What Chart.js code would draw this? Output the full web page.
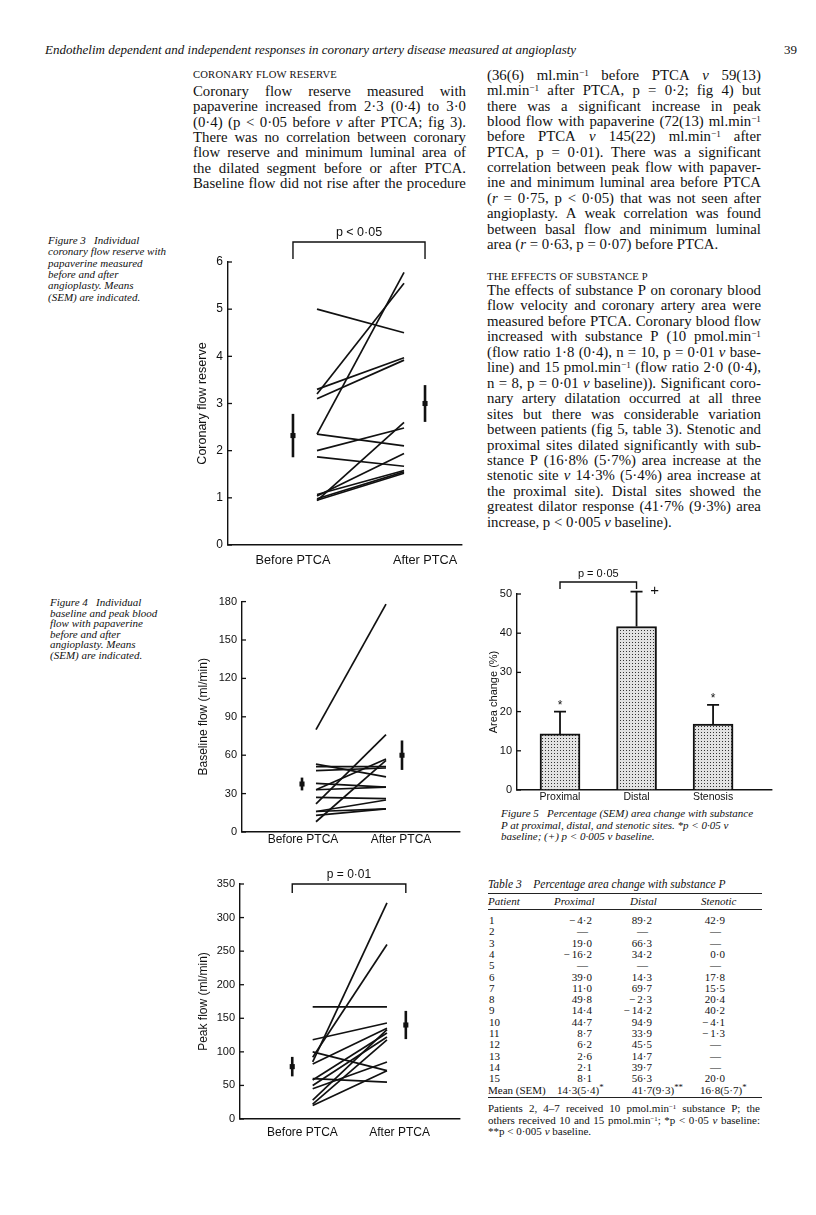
<!DOCTYPE html>
<html>
<head>
<meta charset="utf-8">
<script src="https://cdn.jsdelivr.net/npm/chart.js@4.4.0/dist/chart.umd.min.js"></script>
<style>
body{margin:0;background:#fff;width:816px;height:1215px;position:relative;overflow:hidden;font-family:"Liberation Serif","Times New Roman",serif;color:#111;}
.ln{position:absolute;white-space:nowrap;}
.body{font-size:14.8px;line-height:16px;}
.sc{font-size:10.6px;line-height:16px;letter-spacing:0.2px;}
.cap{font-size:11px;line-height:12px;font-style:italic;}
.tb{font-size:11px;line-height:12px;}
.hd{font-size:13px;line-height:16px;}
sup{font-size:0.62em;line-height:0;vertical-align:0.45em;}
canvas{position:absolute;}
.rule{position:absolute;border-top:1px solid #222;}
</style>
</head>
<body>
<canvas id="cfr" width="275" height="350" style="left:195px;top:220px"></canvas>
<canvas id="baseline" width="272" height="260" style="left:196px;top:590px"></canvas>
<canvas id="peak" width="272" height="279" style="left:196px;top:862px"></canvas>
<canvas id="area" width="290" height="240" style="left:487px;top:566px"></canvas>
<script>
// fig 3: coronary flow reserve, one pair per patient
const cfrBefore = [5.0, 2.35, 3.2, 3.3, 3.1, 2.35, 2.0, 1.87, 0.94, 1.04, 0.98, 1.07, 0.95];
const cfrAfter  = [4.5, 5.78, 5.55, 3.97, 3.92, 2.1, 2.48, 1.67, 2.6, 1.94, 1.55, 1.58, 1.52];
const cfrMean = [2.32, 3.0];
const cfrSem = [0.46, 0.39];

// fig 4: baseline flow (ml/min)
const baseBefore = [80, 22, 8, 33, 53, 51, 48, 38, 33, 27, 16, 16, 13];
const baseAfter  = [178, 76, 56, 57, 43, 51, 50, 35, 35, 26, 25, 18, 18];
const baseMean = [37.5, 60];
const baseSem = [5, 11.5];

// fig 4: peak flow (ml/min)
const peakBefore = [167, 85, 92, 118, 100, 82, 58, 50, 28, 22, 45, 20, 60];
const peakAfter  = [167, 322, 260, 143, 72, 135, 128, 122, 133, 118, 85, 72, 55];
const peakMean = [78, 140];
const peakSem = [14.5, 21];

const periods = ['Before PTCA', 'After PTCA'];

// fig 5: area change with substance P
const sites = ['Proximal', 'Distal', 'Stenosis'];
const areaMean = [14.3, 41.7, 16.8];
const areaSem = [5.7, 8.9, 4.9];
const areaMarks = ['*', '+', '*'];

// table 3
const patients = ['1','2','3','4','5','6','7','8','9','10','11','12','13','14','15'];
const tblProximal = [-4.2, null, 19.0, -16.2, null, 39.0, 11.0, 49.8, 14.4, 44.7, 8.7, 6.2, 2.6, 2.1, 8.1];
const tblDistal   = [89.2, null, 66.3, 34.2, null, 14.3, 69.7, -2.3, -14.2, 94.9, 33.9, 45.5, 14.7, 39.7, 56.3];
const tblStenotic = [42.9, null, null, 0.0, null, 17.8, 15.5, 20.4, 40.2, -4.1, -1.3, null, null, null, 20.0];
const tblMean = ['14·3(5·4)*', '41·7(9·3)**', '16·8(5·7)*'];

const INK = '#111';
const SANS = '"Liberation Sans", Arial, Helvetica, sans-serif';
Chart.defaults.font.family = SANS;
Chart.defaults.color = INK;

// ---------- text ----------
function addLine(html, x, y, w, cls, lh, just) {
  const d = document.createElement('div');
  d.className = 'ln ' + cls;
  d.style.left = x + 'px';
  d.style.top = (y - lh / 2) + 'px';
  if (just) {
    d.style.width = w + 'px';
    d.style.display = 'flex';
    d.style.justifyContent = 'space-between';
    d.innerHTML = html.split(' ').map(s => '<span>' + s + '</span>').join('');
  } else {
    d.innerHTML = html;
  }
  document.body.appendChild(d);
}
function para(lines, x, y0, step, w, cls, lh, lastJust) {
  lines.forEach((t, i) => addLine(t, x, y0 + i * step, w, cls, lh, i < lines.length - 1 || lastJust));
}
function plain(lines, x, y0, step, cls) {
  lines.forEach((t, i) => addLine(t, x, y0 + i * step, 0, cls, 12, false));
}

addLine('<i>Endothelim dependent and independent responses in coronary artery disease measured at angioplasty</i>', 45, 50, 0, 'hd', 16, false);
addLine('39', 784, 50, 0, 'hd', 16, false);

addLine('CORONARY FLOW RESERVE', 193, 75, 0, 'sc', 16, false);
para([
  'Coronary flow reserve measured with',
  'papaverine increased from 2·3 (0·4) to 3·0',
  '(0·4) (p &lt; 0·05 before <i>v</i> after PTCA; fig 3).',
  'There was no correlation between coronary',
  'flow reserve and minimum luminal area of',
  'the dilated segment before or after PTCA.',
  'Baseline flow did not rise after the procedure'
], 193, 91, 15.3, 273, 'body', 16, true);

para([
  '(36(6) ml.min<sup>−1</sup> before PTCA <i>v</i> 59(13)',
  'ml.min<sup>−1</sup> after PTCA, p = 0·2; fig 4) but',
  'there was a significant increase in peak',
  'blood flow with papaverine (72(13) ml.min<sup>−1</sup>',
  'before PTCA <i>v</i> 145(22) ml.min<sup>−1</sup> after',
  'PTCA, p = 0·01). There was a significant',
  'correlation between peak flow with papaver-',
  'ine and minimum luminal area before PTCA',
  '(<i>r</i> = 0·75, p &lt; 0·05) that was not seen after',
  'angioplasty. A weak correlation was found',
  'between basal flow and minimum luminal',
  'area (<i>r</i> = 0·63, p = 0·07) before PTCA.'
], 487, 75, 15.35, 274, 'body', 16, false);

addLine('THE EFFECTS OF SUBSTANCE P', 487, 277, 0, 'sc', 16, false);
para([
  'The effects of substance P on coronary blood',
  'flow velocity and coronary artery area were',
  'measured before PTCA. Coronary blood flow',
  'increased with substance P (10 pmol.min<sup>−1</sup>',
  '(flow ratio 1·8 (0·4), n = 10, p = 0·01 <i>v</i> base-',
  'line) and 15 pmol.min<sup>−1</sup> (flow ratio 2·0 (0·4),',
  'n = 8, p = 0·01 <i>v</i> baseline)). Significant coro-',
  'nary artery dilatation occurred at all three',
  'sites but there was considerable variation',
  'between patients (fig 5, table 3). Stenotic and',
  'proximal sites dilated significantly with sub-',
  'stance P (16·8% (5·7%) area increase at the',
  'stenotic site <i>v</i> 14·3% (5·4%) area increase at',
  'the proximal site). Distal sites showed the',
  'greatest dilator response (41·7% (9·3%) area',
  'increase, p &lt; 0·005 <i>v</i> baseline).'
], 487, 290, 15.45, 274, 'body', 16, false);

plain([
  'Figure 3&nbsp;&nbsp;&nbsp;Individual',
  'coronary flow reserve with',
  'papaverine measured',
  'before and after',
  'angioplasty. Means',
  '(SEM) are indicated.'
], 48, 240, 11.3, 'cap');
plain([
  'Figure 4&nbsp;&nbsp;&nbsp;Individual',
  'baseline and peak blood',
  'flow with papaverine',
  'before and after',
  'angioplasty. Means',
  '(SEM) are indicated.'
], 50, 602, 10.6, 'cap');
plain([
  'Figure 5&nbsp;&nbsp;&nbsp;Percentage (SEM) area change with substance',
  'P at proximal, distal, and stenotic sites. *p &lt; 0·05 v',
  'baseline; (+) p &lt; 0·005 v baseline.'
], 501, 813, 11.5, 'cap');

// ---------- table 3 ----------
function cell(html, x, y, align, extra) {
  const d = document.createElement('div');
  d.className = 'ln tb';
  d.style.top = (y - 6) + 'px';
  if (align === 'right') d.style.right = (816 - x) + 'px'; else d.style.left = x + 'px';
  if (extra) d.style.cssText += extra;
  d.innerHTML = html;
  document.body.appendChild(d);
}
function rule(x, y, w, t) {
  const d = document.createElement('div');
  d.className = 'rule';
  d.style.left = x + 'px'; d.style.top = y + 'px'; d.style.width = w + 'px';
  d.style.borderTopWidth = t + 'px';
  document.body.appendChild(d);
}
const fmt = v => v === null ? '—' : ((v < 0 ? '−\u2009' : '') + Math.abs(v).toFixed(1)).replace('.', '·');
cell('Table 3&nbsp;&nbsp;&nbsp;&nbsp;Percentage area change with substance P', 488, 884, 'left', 'font-style:italic;font-size:11.5px');
rule(488, 893, 274, 1.2);
cell('Patient', 488, 901, 'left', 'font-style:italic');
cell('Proximal', 554, 901, 'left', 'font-style:italic');
cell('Distal', 630, 901, 'left', 'font-style:italic');
cell('Stenotic', 701, 901, 'left', 'font-style:italic');
rule(488, 909, 274, 0.8);
const tblCols = [
  {vals: tblProximal, right: 592, meanLeft: 557},
  {vals: tblDistal, right: 652, meanLeft: 632},
  {vals: tblStenotic, right: 725, meanLeft: 700}
];
patients.forEach((p, i) => {
  const y = 920 + i * 11.3;
  cell(p, 489, y, 'left');
  tblCols.forEach(c => {
    const v = c.vals[i];
    cell(fmt(v), v === null ? c.right - 4 : c.right, y, 'right');
  });
});
const meanY = 920 + patients.length * 11.3;
cell('Mean (SEM)', 488, meanY, 'left');
tblCols.forEach((c, j) => cell(tblMean[j].replace(/\*+/, m => '<sup style="font-size:0.8em">' + m + '</sup>'), c.meanLeft, meanY, 'left'));
rule(488, 1097, 274, 1.4);
addLine('Patients 2, 4–7 received 10 pmol.min<sup>−1</sup> substance P; the', 488, 1108, 272, 'tb', 12, true);
addLine('others received 10 and 15 pmol.min<sup>−1</sup>; *p &lt; 0·05 <i>v</i> baseline:', 488, 1119.5, 272, 'tb', 12, true);
addLine('**p &lt; 0·005 <i>v</i> baseline.', 488, 1131, 0, 'tb', 12, false);

// ---------- chart helpers ----------
const paperMarks = {
  id: 'paperMarks',
  afterDatasetsDraw(chart, args, o) {
    const ctx = chart.ctx, xs = chart.scales.x, ys = chart.scales.y, area = chart.chartArea;
    ctx.save();
    ctx.strokeStyle = INK; ctx.fillStyle = INK;
    // short inward ticks on the y axis
    ctx.lineWidth = 1.3;
    ys.ticks.forEach(t => {
      const y = ys.getPixelForValue(t.value);
      ctx.beginPath(); ctx.moveTo(area.left, y); ctx.lineTo(area.left + 4, y); ctx.stroke();
    });
    // error bars
    if (o.sem) {
      const last = chart.data.datasets.length - 1;
      const meta = chart.getDatasetMeta(last);
      const vals = chart.data.datasets[last].data;
      meta.data.forEach((el, i) => {
        const m = vals[i].y, s = o.sem[i];
        const top = ys.getPixelForValue(m + s);
        ctx.lineWidth = o.errWidth;
        ctx.beginPath();
        if (o.upOnly) {
          ctx.moveTo(el.x, el.y); ctx.lineTo(el.x, top);
          ctx.moveTo(el.x - o.cap, top); ctx.lineTo(el.x + o.cap, top);
        } else {
          ctx.moveTo(el.x, ys.getPixelForValue(m - s)); ctx.lineTo(el.x, top);
        }
        ctx.stroke();
        if (o.marks && o.marks[i]) {
          ctx.textAlign = 'center'; ctx.textBaseline = 'middle';
          if (o.marks[i] === '+') {
            ctx.font = '15px ' + SANS;
            ctx.fillText('+', el.x + 18, top - 1);
          } else {
            ctx.font = '12px ' + SANS;
            ctx.fillText(o.marks[i], el.x, top - 6);
          }
        }
      });
    }
    // significance bracket
    if (o.bracket) {
      const b = o.bracket;
      const x1 = xs.getPixelForValue(b.from), x2 = xs.getPixelForValue(b.to), y0 = area.top - b.above;
      ctx.lineWidth = 1.4;
      ctx.beginPath();
      ctx.moveTo(x1, y0 + b.drop); ctx.lineTo(x1, y0); ctx.lineTo(x2, y0); ctx.lineTo(x2, y0 + b.drop);
      ctx.stroke();
      ctx.font = b.font + 'px ' + SANS;
      ctx.textAlign = 'center'; ctx.textBaseline = 'middle';
      ctx.fillText(b.label, (x1 + x2) / 2, y0 - b.gap);
    }
    ctx.restore();
  }
};
Chart.register(paperMarks);

function axisStyle() {
  return {
    grid: {drawOnChartArea: false, drawTicks: false, color: INK, lineWidth: 1.4},
    border: {color: INK, width: 1.4}
  };
}

function pairedChart(id, c) {
  const datasets = c.before.map((b, i) => ({
    data: [{x: c.lineX[0], y: b}, {x: c.lineX[1], y: c.after[i]}],
    showLine: true, borderColor: INK, borderWidth: 1.7, pointRadius: 0
  }));
  datasets.push({
    data: c.mean.map((m, i) => ({x: i, y: m})),
    pointStyle: 'rect', pointRadius: 3.6, backgroundColor: INK, borderColor: INK, borderWidth: 0
  });
  new Chart(document.getElementById(id), {
    type: 'scatter',
    data: {datasets},
    options: {
      responsive: false, animation: false, events: [],
      layout: {padding: {top: c.padTop, right: c.padRight, left: 0, bottom: 0}},
      plugins: {
        legend: {display: false}, tooltip: {enabled: false},
        paperMarks: {sem: c.sem, errWidth: 2.6, upOnly: false, bracket: c.bracket}
      },
      scales: {
        x: Object.assign(axisStyle(), {
          type: 'linear', min: c.xMin, max: c.xMax,
          afterBuildTicks: s => { s.ticks = c.labelAt.map(v => ({value: v})); },
          afterFit: s => { s.height = c.xH; },
          ticks: {callback: (v, i) => periods[i], padding: c.xPad, autoSkip: false, maxRotation: 0, font: {size: c.tickFont}}
        }),
        y: Object.assign(axisStyle(), {
          min: 0, max: c.yMax,
          afterFit: s => { s.width = c.yW; },
          ticks: {stepSize: c.step, padding: 5, font: {size: c.yFont}},
          title: {display: true, text: c.title, padding: 0, font: {size: c.titleFont}}
        })
      }
    }
  });
}

pairedChart('cfr', {
  before: cfrBefore, after: cfrAfter, mean: cfrMean, sem: cfrSem,
  yMax: 6, step: 1, title: 'Coronary flow reserve', titleFont: 12.5, tickFont: 12.7, yFont: 12,
  xMin: -0.492, xMax: 1.28, lineX: [0.182, 0.841], labelAt: [0, 1],
  yW: 33, xH: 25, xPad: 8, padTop: 42, padRight: 8,
  bracket: {from: 0, to: 1, label: 'p < 0·05', above: 20, drop: 17, gap: 9, font: 12.5}
});

pairedChart('baseline', {
  before: baseBefore, after: baseAfter, mean: baseMean, sem: baseSem,
  yMax: 180, step: 30, title: 'Baseline flow (ml/min)', titleFont: 12, tickFont: 12, yFont: 11,
  xMin: -0.6, xMax: 1.58, lineX: [0.14, 0.84], labelAt: [0.01, 0.99],
  yW: 46, xH: 18, xPad: 0, padTop: 9, padRight: 8
});

pairedChart('peak', {
  before: peakBefore, after: peakAfter, mean: peakMean, sem: peakSem,
  yMax: 350, step: 50, title: 'Peak flow (ml/min)', titleFont: 12, tickFont: 12, yFont: 11,
  xMin: -0.46, xMax: 1.477, lineX: [0.18, 0.834], labelAt: [0.09, 0.945],
  yW: 44, xH: 22, xPad: 6, padTop: 22, padRight: 8,
  bracket: {from: 0, to: 1, label: 'p = 0·01', above: 0, drop: 9, gap: 9, font: 12}
});

// fig 5 bars with a stippled fill
const areaCanvas = document.getElementById('area');
const pc = document.createElement('canvas');
pc.width = 3; pc.height = 3;
const pctx = pc.getContext('2d');
pctx.fillStyle = '#e2e2e2'; pctx.fillRect(0, 0, 3, 3);
pctx.fillStyle = '#333'; pctx.fillRect(1, 1, 1, 1);
const stipple = areaCanvas.getContext('2d').createPattern(pc, 'repeat');

new Chart(areaCanvas, {
  type: 'bar',
  data: {
    datasets: [{
      data: areaMean.map((m, i) => ({x: i, y: m})),
      backgroundColor: stipple, borderColor: INK, borderWidth: 2, borderSkipped: 'bottom', barThickness: 40
    }]
  },
  options: {
    responsive: false, animation: false, events: [],
    layout: {padding: {top: 28, right: 5, left: 0, bottom: 0}},
    plugins: {
      legend: {display: false}, tooltip: {enabled: false},
      paperMarks: {sem: areaSem, errWidth: 1.8, upOnly: true, cap: 6, marks: areaMarks,
        bracket: {from: 0, to: 1, label: 'p = 0·05', above: 12, drop: 7, gap: 8, font: 11}}
    },
    scales: {
      x: Object.assign(axisStyle(), {
        type: 'linear', offset: false, min: -0.562, max: 2.77,
        afterBuildTicks: s => { s.ticks = sites.map((_, i) => ({value: i})); },
        afterFit: s => { s.height = 16; },
        ticks: {callback: (v, i) => sites[i], padding: 1, autoSkip: false, maxRotation: 0, font: {size: 10.5}}
      }),
      y: Object.assign(axisStyle(), {
        min: 0, max: 50,
        afterFit: s => { s.width = 30; },
        ticks: {stepSize: 10, padding: 5, font: {size: 11}},
        title: {display: true, text: 'Area change (%)', padding: 0, font: {size: 11}}
      })
    }
  }
});
</script>
</body>
</html>
